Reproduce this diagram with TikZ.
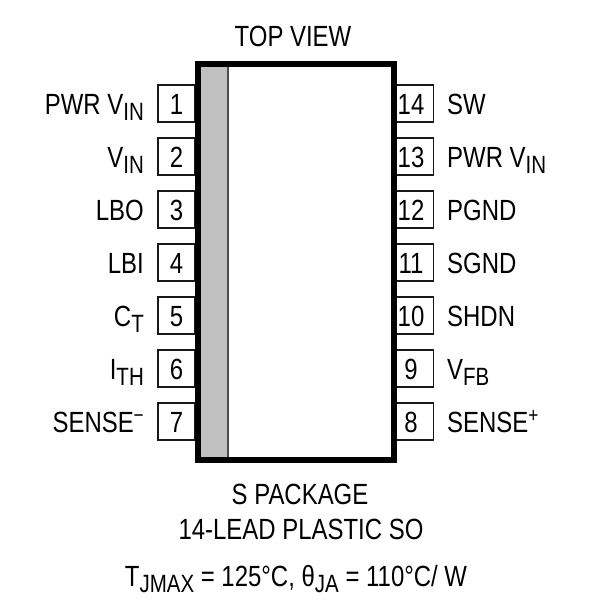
\documentclass[tikz,border=0pt]{standalone}
\usepackage{fontspec}
\setmainfont[FakeStretch=0.82]{Liberation Sans}
\newcommand{\pinsub}[1]{\raisebox{-6pt}{\fontsize{25}{27}\selectfont #1}}
\newcommand{\pinsup}[1]{\raisebox{10pt}{\fontsize{21}{24}\selectfont #1}}
\definecolor{bandgray}{RGB}{192,192,192}
\tikzset{
    every node/.style={font=\fontsize{29.2}{32}\selectfont,inner sep=0pt},
    pinbox/.style={draw=black!90,line width=1.8pt,fill=white,minimum width=37pt,minimum height=37pt},
    pinno/.style={anchor=base},
    leftname/.style={anchor=base east},
    rightname/.style={anchor=base west},
    caption/.style={anchor=base}
}
\begin{document}
\begin{tikzpicture}[x=1pt,y=-1pt]
    \useasboundingbox (0,0) rectangle (610,615);
    % pins, left side
    \foreach \n/\name [count=\i from 0] in {1/{PWR V\pinsub{IN}},2/{V\pinsub{IN}},3/LBO,4/LBI,5/{C\pinsub{T}},6/{I\pinsub{TH}},7/{SENSE\pinsup{−}}} {
        \node[pinbox] (pin\n) at (176.5,103.5+53*\i) {};
        \node[pinno] (no\n) at (176.5,114+53*\i) {\n};
        \node[leftname] (name\n) at (144,114+53*\i) {\name};
    }
    % pins, right side
    \foreach \n/\name [count=\i from 0] in {14/SW,13/{PWR V\pinsub{IN}},12/PGND,11/SGND,10/SHDN,9/{V\pinsub{FB}},8/{SENSE\pinsup{+}}} {
        \node[pinbox] (pin\n) at (415,103.5+53*\i) {};
        \node[pinno] (no\n) at (411,114+53*\i) {\n};
        \node[rightname] (name\n) at (447,114+53*\i) {\name};
    }
    % package body
    \draw[line width=6pt,fill=white] (198,64) rectangle (394,460);
    \fill[bandgray] (201,67) rectangle (228,457);
    \draw[black!70,line width=1.5pt] (228,67) -- (228,457);
    \node[caption] (topview) at (293,47) {TOP VIEW};
    \node[caption] (pkg) at (300,504) {S PACKAGE};
    \node[caption] (lead) at (301,539) {14-LEAD PLASTIC SO};
    \node[caption] (therm) at (296,586) {T\pinsub{JMAX} = 125°C, θ\pinsub{JA} = 110°C/ W};
\end{tikzpicture}
\end{document}
